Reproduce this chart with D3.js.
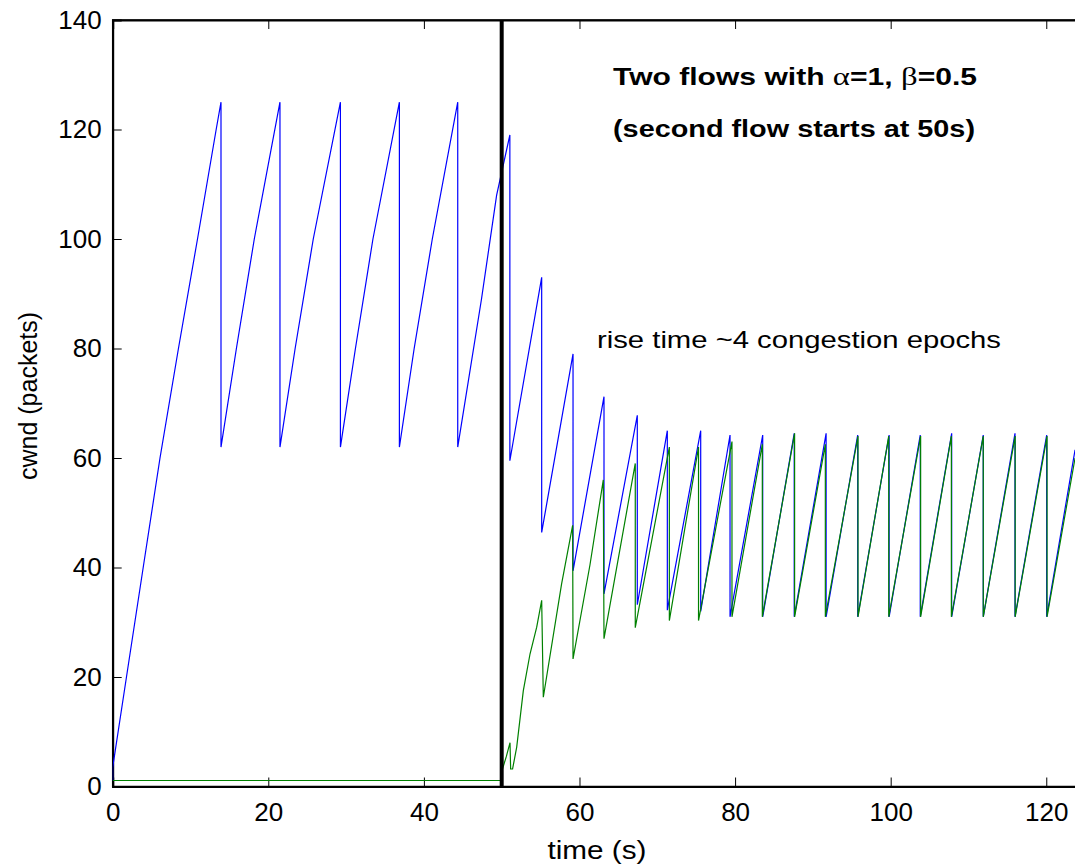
<!DOCTYPE html>
<html>
<head>
<meta charset="utf-8">
<script src="https://cdn.jsdelivr.net/npm/d3@7"></script>
<style>
  body { margin: 0; background: #fff; }
  svg { display: block; }
  text { font-family: "Liberation Sans", Arial, sans-serif; fill: #000; }
</style>
</head>
<body>
<div id="chart"></div>
<script>
// Axis ticks
var xTicks = [0, 20, 40, 60, 80, 100, 120];
var yTicks = [0, 20, 40, 60, 80, 100, 120, 140];

// Flow 1 (blue) cwnd, [time s, packets], read at ramp / drop vertices
var flow1 = [
  [0, 1], [0, 3.5], [1.77, 20], [3.92, 40], [6.08, 60], [8.45, 80], [10.9, 100], [13.3, 120], [13.92, 125], [13.92, 62],
  [15.9, 80], [18.2, 100], [21.5, 125], [21.5, 62],
  [23.45, 80], [25.78, 100], [29.27, 125], [29.27, 62],
  [31.2, 80], [33.45, 100], [36.85, 125], [36.85, 62],
  [38.75, 80], [41.08, 100], [44.35, 125], [44.35, 62],
  [47.4, 89], [49.35, 108], [51.05, 119], [51.05, 59.5],
  [55.14, 93], [55.14, 46.4],
  [59.17, 79], [59.17, 39.4],
  [63.15, 71.2], [63.15, 35.2],
  [67.43, 67.8], [67.43, 33.2],
  [71.29, 65], [71.29, 32.2],
  [75.58, 65], [75.58, 32],
  [79.35, 64.2], [79.35, 31],
  [83.55, 64.2], [83.55, 31],
  [87.6, 64.5], [87.6, 31],
  [91.7, 64.5], [91.7, 31],
  [95.76, 64.2], [95.76, 31],
  [99.8, 64.2], [99.8, 31],
  [103.8, 64.2], [103.8, 31],
  [107.84, 64.5], [107.84, 31],
  [111.9, 64.2], [111.9, 31],
  [115.98, 64.5], [115.98, 31],
  [120.05, 64.2], [120.05, 31],
  [123.7, 61.5]
];

// Flow 2 (green) cwnd, starts at 50 s
var flow2 = [
  [0, 1.1], [50, 1.1], [50.1, 3.2], [50.6, 5.5], [51.07, 8], [51.15, 3.2], [51.4, 3.2],
  [51.93, 7.2], [52.78, 17.5], [53.64, 24.2], [54.5, 29.1], [55.14, 34], [55.35, 16.3],
  [57.7, 37], [59.12, 47.7], [59.17, 23.3],
  [61.35, 40.5], [63.06, 56], [63.15, 27],
  [67.17, 59], [67.17, 29],
  [71.55, 62], [71.55, 30.3],
  [75.3, 62], [75.3, 30.3],
  [79.6, 63], [79.6, 31],
  [83.5, 62.5], [83.5, 31],
  [87.65, 64.5], [87.65, 31],
  [91.6, 62.5], [91.6, 31],
  [95.8, 64], [95.8, 31],
  [99.75, 64], [99.75, 31],
  [103.85, 64], [103.85, 31],
  [107.8, 64], [107.8, 31],
  [111.9, 64], [111.9, 31],
  [116.0, 64], [116.0, 31],
  [120.1, 64], [120.1, 31],
  [123.7, 60]
];

var startTime = 50;

var width = 1075, height = 867;
var plotLeft = 112.7, plotTop = 20, plotRight = 1077.4, plotBottom = 786.5;

var svg = d3.select("#chart").append("svg")
  .attr("width", width)
  .attr("height", height);

var x = d3.scaleLinear().domain([0, 124]).range([plotLeft, plotRight]);
var y = d3.scaleLinear().domain([0, 140]).range([plotBottom, plotTop]);

svg.append("defs").append("clipPath")
  .attr("id", "plot-clip")
  .append("rect")
  .attr("x", plotLeft).attr("y", plotTop)
  .attr("width", plotRight - plotLeft).attr("height", plotBottom - plotTop);

// Box (top / right edges, thin)
svg.append("rect")
  .attr("x", plotLeft).attr("y", plotTop)
  .attr("width", plotRight - plotLeft).attr("height", plotBottom - plotTop)
  .style("fill", "none")
  .style("stroke", "#000")
  .style("stroke-width", 1.5);

// Axes with inward ticks
var xAxis = d3.axisBottom(x).tickValues(xTicks).tickSize(-9).tickPadding(16).tickFormat(d3.format("d"));
var yAxis = d3.axisLeft(y).tickValues(yTicks).tickSize(-9).tickPadding(11).tickFormat(d3.format("d"));
var xTop = d3.axisTop(x).tickValues(xTicks).tickSize(-9).tickFormat("");

svg.append("g")
  .attr("transform", "translate(0," + plotBottom + ")")
  .call(xAxis);
svg.append("g")
  .attr("transform", "translate(" + plotLeft + ",0)")
  .call(yAxis);
svg.append("g")
  .attr("transform", "translate(0," + plotTop + ")")
  .call(xTop);

svg.selectAll(".domain").style("stroke", "#000").style("stroke-width", 2);
svg.selectAll(".tick line").style("stroke", "#000").style("stroke-width", 1);
svg.selectAll(".tick text").style("font-size", "26px").style("font-family", "Liberation Sans, Arial, sans-serif");

var line = d3.line()
  .x(function(d) { return x(d[0]); })
  .y(function(d) { return y(d[1]); });

var plot = svg.append("g").attr("clip-path", "url(#plot-clip)");

plot.append("path")
  .datum(flow1)
  .attr("d", line)
  .style("fill", "none")
  .style("stroke", "#0000ff")
  .style("stroke-width", 1.2);

plot.append("path")
  .datum(flow2)
  .attr("d", line)
  .style("fill", "none")
  .style("stroke", "#008000")
  .style("stroke-width", 1.2);

// Marker for second flow start
svg.append("line")
  .attr("x1", x(startTime)).attr("x2", x(startTime))
  .attr("y1", y(140)).attr("y2", y(0))
  .style("stroke", "#000")
  .style("stroke-width", 4);

// Annotations (widths stretched to match the wide original lettering)
var title = svg.append("text")
  .attr("x", 795).attr("y", 85)
  .attr("textLength", 364)
  .attr("lengthAdjust", "spacingAndGlyphs")
  .style("text-anchor", "middle")
  .style("font-size", "23px")
  .style("font-weight", "bold");
title.append("tspan").text("Two flows with ");
title.append("tspan").text("\u03b1").style("font-family", "Liberation Serif, serif").style("font-weight", "normal").style("font-size", "25px");
title.append("tspan").text("=1, ");
title.append("tspan").text("\u03b2").style("font-family", "Liberation Serif, serif").style("font-weight", "normal").style("font-size", "25px");
title.append("tspan").text("=0.5");

svg.append("text")
  .attr("x", 794).attr("y", 137)
  .attr("textLength", 362)
  .attr("lengthAdjust", "spacingAndGlyphs")
  .style("text-anchor", "middle")
  .style("font-size", "23px")
  .style("font-weight", "bold")
  .text("(second flow starts at 50s)");

svg.append("text")
  .attr("x", 597).attr("y", 348)
  .attr("textLength", 404)
  .attr("lengthAdjust", "spacingAndGlyphs")
  .style("font-size", "24px")
  .text("rise time ~4 congestion epochs");

// Axis labels
svg.append("text")
  .attr("x", 597).attr("y", 859)
  .attr("textLength", 99)
  .attr("lengthAdjust", "spacingAndGlyphs")
  .style("text-anchor", "middle")
  .style("font-size", "25px")
  .text("time (s)");

svg.append("text")
  .attr("transform", "translate(37,396) rotate(-90)")
  .style("text-anchor", "middle")
  .style("font-size", "25px")
  .text("cwnd (packets)");
</script>
</body>
</html>
